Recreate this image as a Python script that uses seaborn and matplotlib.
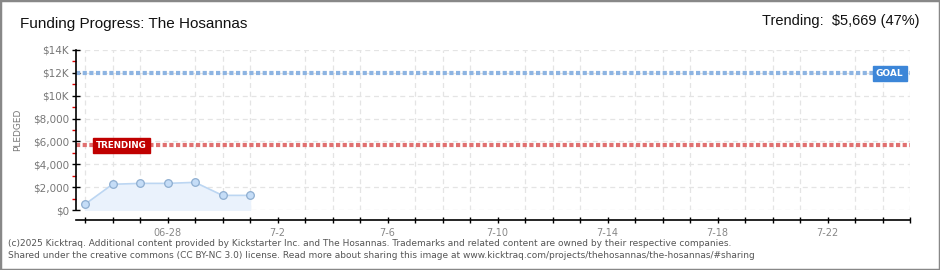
import matplotlib
matplotlib.use("Agg")
import matplotlib.pyplot as plt
import matplotlib.dates as mdates
from matplotlib.ticker import FuncFormatter, MultipleLocator
from matplotlib.patches import Rectangle
import seaborn as sns
import pandas as pd

# ---- data ----
dates = ["2025-06-25", "2025-06-26", "2025-06-27", "2025-06-28",
         "2025-06-29", "2025-06-30", "2025-07-01"]
pledged = [500, 2250, 2330, 2330, 2420, 1280, 1280]
goal = 11950
trending = 5669
trending_pct = 47
title = "Funding Progress: The Hosannas"
xtick_dates = ["2025-06-28", "2025-07-02", "2025-07-06", "2025-07-10",
               "2025-07-14", "2025-07-18", "2025-07-22"]
xtick_labels = ["06-28", "7-2", "7-6", "7-10", "7-14", "7-18", "7-22"]
x_start = "2025-06-25"
x_end = "2025-07-25"
footer1 = ("(c)2025 Kicktraq. Additional content provided by Kickstarter Inc. and The Hosannas. "
           "Trademarks and related content are owned by their respective companies.")
footer2 = ("Shared under the creative commons (CC BY-NC 3.0) license. Read more about sharing "
           "this image at www.kicktraq.com/projects/thehosannas/the-hosannas/#sharing")

df = pd.DataFrame({"date": pd.to_datetime(dates), "pledged": pledged})

sns.set_theme(style="white")
plt.rcParams['font.family'] = ['DejaVu Sans']
narrow = ['Liberation Sans', 'DejaVu Sans']

W, H = 940, 270
fig = plt.figure(figsize=(W / 100, H / 100), dpi=100)
fig.patch.set_facecolor("white")
ax = fig.add_axes([76 / W, (H - 210) / H, (910 - 76) / W, 160 / H])
ax.set_facecolor("white")

x0 = mdates.date2num(pd.Timestamp(x_start))
x1 = mdates.date2num(pd.Timestamp(x_end))
ax.set_xlim(x0 - 9 / 27.5, x1)
ax.set_ylim(0, 14000)

# grid
ax.xaxis.set_minor_locator(mdates.DayLocator())
ax.set_xticks(mdates.date2num(pd.to_datetime(xtick_dates)))
ax.set_xticklabels(xtick_labels)
ax.yaxis.set_major_locator(MultipleLocator(2000))
ax.yaxis.set_minor_locator(MultipleLocator(1000))
ax.yaxis.set_major_formatter(FuncFormatter(
    lambda v, p: f"${v/1000:.0f}K" if v >= 10000 else f"${v:,.0f}"))
ax.grid(True, which="minor", axis="x", color="#e4e4e4", linestyle=(0, (4, 3)), linewidth=0.9)
ax.grid(True, which="major", axis="y", color="#e4e4e4", linestyle=(0, (4, 3)), linewidth=0.9)
ax.set_axisbelow(True)

# fill + line
ax.fill_between(df["date"], df["pledged"], 0, color="#eaf2fc", zorder=1)
sns.lineplot(data=df, x="date", y="pledged", ax=ax, color="#bcd6f2", linewidth=1.2,
             marker="o", markersize=5.5, markerfacecolor="#c5ddf7",
             markeredgecolor="#8eaed0", markeredgewidth=0.9, zorder=3)

# goal and trending lines
ax.axhline(goal, color="#8db4e2", linewidth=3, linestyle=(0, (1.0, 0.6)), zorder=2)
ax.axhline(trending, color="#e07070", linewidth=3, linestyle=(0, (1.0, 0.6)), zorder=2)

# labels on lines
ax.annotate("GOAL", xy=(1, goal), xycoords=("axes fraction", "data"),
            xytext=(-34, 0), textcoords="offset pixels", ha="left", va="center",
            fontsize=6.5, color="white", fontweight="bold",
            bbox=dict(boxstyle="square,pad=0.35", fc="#3c86d8", ec="#3c86d8"), zorder=5)
ax.annotate("TRENDING", xy=(0, trending), xycoords=("axes fraction", "data"),
            xytext=(20, 0), textcoords="offset pixels", ha="left", va="center",
            fontsize=6.3, color="white", fontweight="bold",
            bbox=dict(boxstyle="square,pad=0.35", fc="#c00000", ec="#c00000"), zorder=5)

ax.set_xlabel("")
ax.set_ylabel("PLEDGED", fontsize=6.5, color="#777777", labelpad=8)

# spines
for s in ["top", "right"]:
    ax.spines[s].set_visible(False)
ax.spines["left"].set_color("black")
ax.spines["left"].set_linewidth(1.2)
ax.spines["bottom"].set_color("black")
ax.spines["bottom"].set_linewidth(1.2)
ax.spines["bottom"].set_position(("outward", 7.5))

ax.tick_params(axis="y", which="major", direction="inout", length=6, width=1,
               color="black", labelsize=7.5, labelcolor="#777777", pad=2, left=True)
ax.tick_params(axis="y", which="minor", direction="out", length=3, width=1,
               color="#dd0000", left=True)
ax.tick_params(axis="x", which="both", direction="inout", length=5, width=1,
               color="black", labelsize=7, labelcolor="#888888", pad=3, bottom=True)

# header
fig.text(20 / W, 1 - 24 / H, title, fontsize=11, color="#111111", va="center", ha="left",
         family=narrow)
fig.text(920 / W, 1 - 21 / H, f"Trending:  ${trending:,} ({trending_pct}%)",
         fontsize=10.5, color="#111111", va="center", ha="right", family=narrow)

# footer
fig.text(8 / W, 1 - 243 / H, footer1, fontsize=6.5, color="#555555", va="center", ha="left")
fig.text(8 / W, 1 - 256 / H, footer2, fontsize=6.5, color="#555555", va="center", ha="left")

# border
fig.patches.append(Rectangle((0, 0), 1, 1, transform=fig.transFigure, fill=False,
                             ec="#888888", lw=2.5, zorder=10))

fig.savefig("out.png", dpi=100, facecolor="white")
